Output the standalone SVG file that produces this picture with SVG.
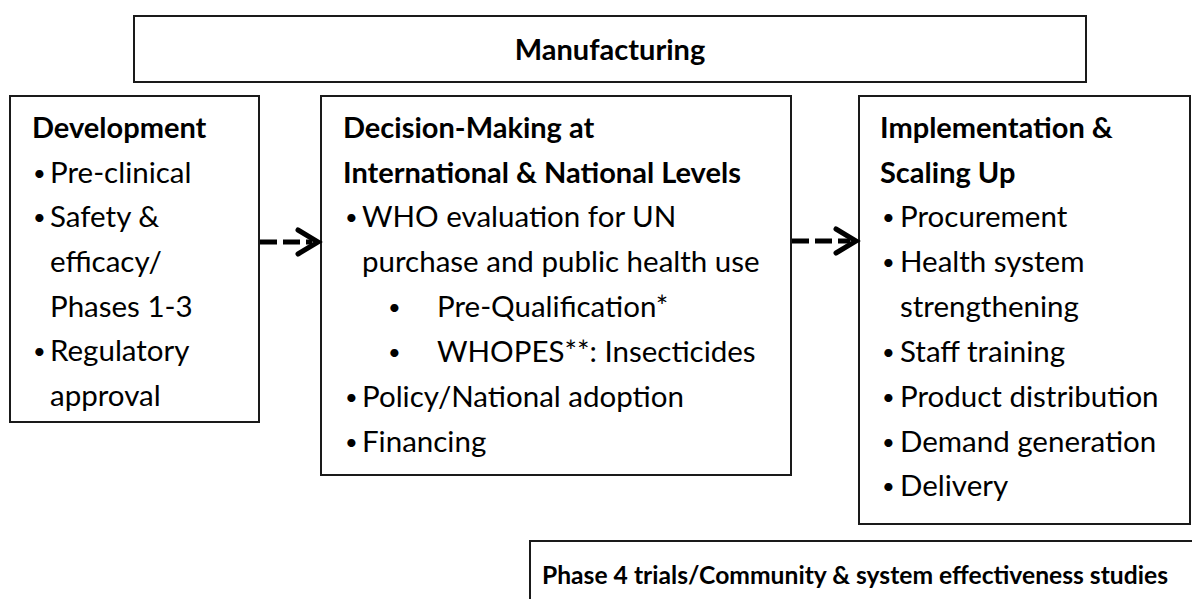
<svg xmlns="http://www.w3.org/2000/svg" width="1192" height="599" viewBox="0 0 1192 599">
<style>
.box{fill:#fff;stroke:#1a1a1a;stroke-width:2}
text{font-family:Lato,"Open Sans","Liberation Sans",sans-serif;font-size:29.5px;fill:#000}
.b{font-weight:bold;font-size:29px}
.bl{font-size:22px}
.dash{stroke:#000;stroke-width:5;stroke-dasharray:17 6;fill:none}
.head{stroke:#000;stroke-width:5;fill:none;stroke-linecap:round;stroke-linejoin:miter}
</style>
<rect width="1192" height="599" fill="#fff"/>
<g id="manufacturing">
<rect class="box" x="134" y="16" width="952" height="66"/>
<text class="b" x="610" y="60" text-anchor="middle">Manufacturing</text>
</g>
<g id="development">
<rect class="box" x="10" y="96" width="249" height="326"/>
<text class="b" x="32" y="138">Development</text>
<text class="bl" x="33" y="181">•</text><text x="50" y="183">Pre-clinical</text>
<text class="bl" x="33" y="225">•</text><text x="50" y="227">Safety &amp;</text>
<text x="50" y="272">efficacy/</text>
<text x="50" y="317">Phases 1-3</text>
<text class="bl" x="33" y="359">•</text><text x="50" y="361">Regulatory</text>
<text x="50" y="406">approval</text>
</g>
<g id="decision">
<rect class="box" x="321" y="96" width="470" height="379"/>
<text class="b" x="343" y="138">Decision-Making at</text>
<text class="b" x="343" y="183">International &amp; National Levels</text>
<text class="bl" x="345" y="225">•</text><text x="362" y="227">WHO evaluation for UN</text>
<text x="362" y="272">purchase and public health use</text>
<text class="bl" x="388" y="315">•</text><text x="437" y="317">Pre-Qualification*</text>
<text class="bl" x="388" y="360">•</text><text x="437" y="362">WHOPES**: Insecticides</text>
<text class="bl" x="345" y="405">•</text><text x="362" y="407">Policy/National adoption</text>
<text class="bl" x="345" y="450">•</text><text x="362" y="452">Financing</text>
</g>
<g id="implementation">
<rect class="box" x="859" y="96" width="331" height="428"/>
<text class="b" x="880" y="138">Implementation &amp;</text>
<text class="b" x="880" y="183">Scaling Up</text>
<text class="bl" x="882" y="225">•</text><text x="900" y="227">Procurement</text>
<text class="bl" x="882" y="270">•</text><text x="900" y="272">Health system</text>
<text x="900" y="317">strengthening</text>
<text class="bl" x="882" y="360">•</text><text x="900" y="362">Staff training</text>
<text class="bl" x="882" y="405">•</text><text x="900" y="407">Product distribution</text>
<text class="bl" x="882" y="450">•</text><text x="900" y="452">Demand generation</text>
<text class="bl" x="882" y="494">•</text><text x="900" y="496">Delivery</text>
</g>
<g id="phase4">
<path d="M1192,541 H530 V599" fill="none" stroke="#1a1a1a" stroke-width="2"/>
<text class="b" x="542" y="584" style="font-size:25px" textLength="626" lengthAdjust="spacingAndGlyphs">Phase 4 trials/Community &amp; system effectiveness studies</text>
</g>
<g id="connectors">
<line class="dash" x1="260" y1="242" x2="312" y2="242"/>
<polyline class="head" points="298,230 318,242 298,254"/>
<line class="dash" x1="792" y1="241" x2="850" y2="241"/>
<polyline class="head" points="836,229 856,241 836,253"/>
</g>
</svg>
